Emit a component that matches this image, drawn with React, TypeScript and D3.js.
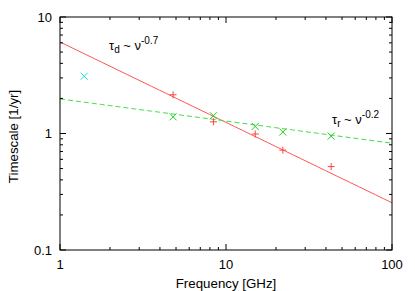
import React from "react";
import * as d3 from "d3";

const freqD = [4.8, 8.4, 15, 22, 43];
const tauD = [2.15, 1.26, 0.99, 0.72, 0.52];
const freqR = [4.8, 8.4, 15, 22, 43];
const tauR = [1.39, 1.42, 1.15, 1.03, 0.95];
const freqC = [1.4];
const tauC = [3.1];
const fitD = { amp: 6.1, slope: -0.69 };
const fitR = { amp: 1.98, slope: -0.19 };
const xTicks = [1, 10, 100];
const yTicks = [0.1, 1, 10];

const W = 415, H = 291;
const m = { l: 60, r: 23, t: 17, b: 41 };

export default function App() {
  const x = d3.scaleLog().domain([1, 100]).range([m.l, W - m.r]);
  const y = d3.scaleLog().domain([0.1, 10]).range([H - m.b, m.t]);
  const x0 = m.l, x1 = W - m.r, y0 = H - m.b, y1 = m.t;
  const minorX: number[] = [];
  for (let d = 1; d < 100; d *= 10) for (let k = 2; k <= 9; k++) minorX.push(d * k);
  const minorY: number[] = [];
  for (let d = 0.1; d < 10; d *= 10) for (let k = 2; k <= 9; k++) minorY.push(d * k);
  const fitPts = (f: { amp: number; slope: number }) =>
    d3.range(0, 2.001, 0.05).map((e) => [Math.pow(10, e), f.amp * Math.pow(Math.pow(10, e), f.slope)] as [number, number]);
  const line = d3.line<[number, number]>().x((d) => x(d[0])).y((d) => y(d[1]));
  const font = "'Liberation Sans', Arial, sans-serif";
  const plus = (cx: number, cy: number, c: string, k: string) => (
    <g key={k} stroke={c} strokeWidth={1}>
      <line x1={cx - 3.5} x2={cx + 3.5} y1={cy} y2={cy} />
      <line x1={cx} x2={cx} y1={cy - 3.5} y2={cy + 3.5} />
    </g>
  );
  const cross = (cx: number, cy: number, c: string, k: string) => (
    <g key={k} stroke={c} strokeWidth={1}>
      <line x1={cx - 3.5} x2={cx + 3.5} y1={cy - 3.5} y2={cy + 3.5} />
      <line x1={cx - 3.5} x2={cx + 3.5} y1={cy + 3.5} y2={cy - 3.5} />
    </g>
  );
  return (
    <svg width={W} height={H} style={{ position: "absolute", left: 0, top: 0 }} fontFamily={font}>
      <rect width={W} height={H} fill="white" />
      <defs>
        <clipPath id="clip">
          <rect x={x0} y={y1} width={x1 - x0} height={y0 - y1} />
        </clipPath>
      </defs>
      <g clipPath="url(#clip)">
        <path d={line(fitPts(fitD)) || ""} fill="none" stroke="#ff5555" strokeWidth={1} />
        <path d={line(fitPts(fitR)) || ""} fill="none" stroke="#44dd44" strokeWidth={1} strokeDasharray="5,3" />
      </g>
      {freqD.map((f, i) => plus(x(f), y(tauD[i]), "#ff4040", "d" + i))}
      {freqR.map((f, i) => cross(x(f), y(tauR[i]), "#22cc22", "r" + i))}
      {freqC.map((f, i) => cross(x(f), y(tauC[i]), "#22dddd", "c" + i))}
      <g stroke="black" strokeWidth={1}>
        <rect x={x0} y={y1} width={x1 - x0} height={y0 - y1} fill="none" />
        {xTicks.map((t) => (
          <g key={"xt" + t}>
            <line x1={x(t)} x2={x(t)} y1={y0} y2={y0 - 6} />
            <line x1={x(t)} x2={x(t)} y1={y1} y2={y1 + 6} />
          </g>
        ))}
        {minorX.map((t) => (
          <g key={"xm" + t}>
            <line x1={x(t)} x2={x(t)} y1={y0} y2={y0 - 3} />
            <line x1={x(t)} x2={x(t)} y1={y1} y2={y1 + 3} />
          </g>
        ))}
        {yTicks.map((t) => (
          <g key={"yt" + t}>
            <line x1={x0} x2={x0 + 6} y1={y(t)} y2={y(t)} />
            <line x1={x1} x2={x1 - 6} y1={y(t)} y2={y(t)} />
          </g>
        ))}
        {minorY.map((t) => (
          <g key={"ym" + t}>
            <line x1={x0} x2={x0 + 3} y1={y(t)} y2={y(t)} />
            <line x1={x1} x2={x1 - 3} y1={y(t)} y2={y(t)} />
          </g>
        ))}
      </g>
      {xTicks.map((t) => (
        <text key={"xl" + t} x={x(t)} y={y0 + 19} fontSize={13} textAnchor="middle">{t}</text>
      ))}
      {yTicks.map((t) => (
        <text key={"yl" + t} x={x0 - 8} y={y(t) + 4.5} fontSize={13} textAnchor="end">{t}</text>
      ))}
      <text x={(x0 + x1) / 2} y={H - 3} fontSize={13.3} textAnchor="middle">Frequency [GHz]</text>
      <text transform={`translate(18,${(y0 + y1) / 2 + 3}) rotate(-90)`} fontSize={13.3} textAnchor="middle">Timescale [1/yr]</text>
      <text x={109} y={50} fontSize={13}>
        τ<tspan fontSize={10} dy={3}>d</tspan><tspan dy={-3}> ~ ν</tspan><tspan fontSize={10} dy={-6}>-0.7</tspan>
      </text>
      <text x={332} y={124} fontSize={13}>
        τ<tspan fontSize={10} dy={3}>r</tspan><tspan dy={-3}> ~ ν</tspan><tspan fontSize={10} dy={-6}>-0.2</tspan>
      </text>
    </svg>
  );
}
